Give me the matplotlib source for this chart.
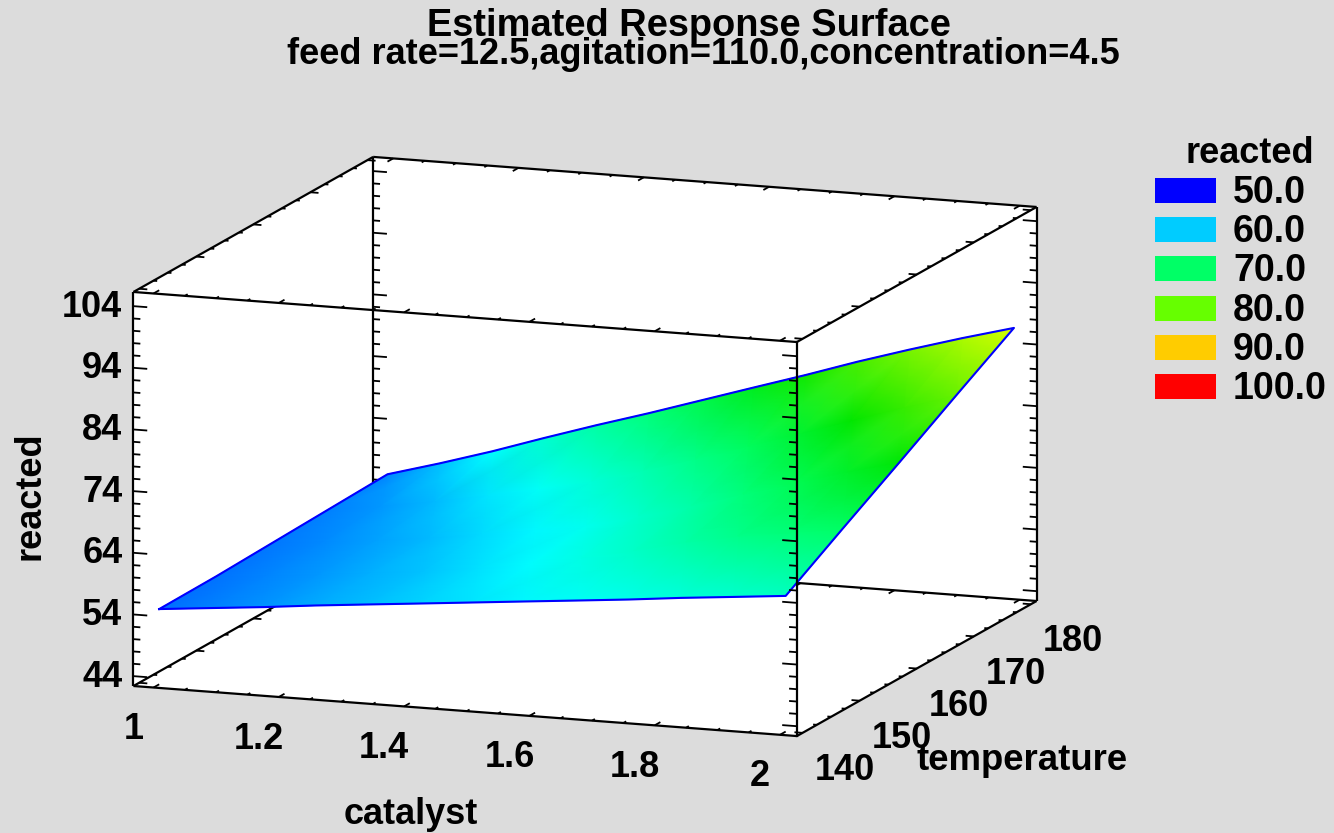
from __future__ import annotations

import matplotlib
matplotlib.use("Agg")
import matplotlib.pyplot as plt
import numpy as np
from matplotlib.colors import LinearSegmentedColormap, Normalize
from matplotlib.patches import Rectangle
from mpl_toolkits.mplot3d import proj3d

W, H = 1334, 833
BG = "#dcdcdc"
FONT = ["Liberation Sans", "DejaVu Sans"]

# values
CATALYST = [1.0, 1.083, 1.167, 1.25, 1.333, 1.417, 1.5, 1.583, 1.667, 1.75, 1.833, 1.917, 2.0]
TEMPERATURE = [140, 150, 160, 170, 180]
REACTED_140 = [54.6, 55.4, 56.2, 57.1, 57.9, 58.7, 59.5, 60.3, 61.1, 61.9, 62.8, 63.6, 64.4]
REACTED_150 = [54.7, 55.5, 56.4, 57.3, 58.2, 59.3, 60.5, 62.2, 64.0, 66.0, 67.6, 68.8, 70.1]
REACTED_160 = [55.0, 55.8, 56.7, 57.7, 59.0, 60.2, 61.6, 63.8, 66.0, 68.6, 71.0, 73.5, 75.7]
REACTED_170 = [55.3, 56.4, 57.8, 59.4, 61.0, 62.9, 65.3, 67.8, 70.5, 73.2, 76.0, 78.8, 81.4]
REACTED_180 = [55.6, 58.0, 60.6, 63.4, 66.1, 68.7, 71.4, 74.1, 76.8, 79.6, 82.2, 84.7, 87.0]

CAT_TICKS = [1, 1.2, 1.4, 1.6, 1.8, 2]
CAT_LABELS = ["1", "1.2", "1.4", "1.6", "1.8", "2"]
TEMP_TICKS = [140, 150, 160, 170, 180]
Z_TICKS = [44, 54, 64, 74, 84, 94, 104]

LEGEND_LEVELS = ["50.0", "60.0", "70.0", "80.0", "90.0", "100.0"]
LEGEND_COLORS = ["#0000ff", "#00ccff", "#00ff66", "#66ff00", "#ffcc00", "#ff0000"]

SURF_STOPS = [50, 60.5, 70, 76, 87, 100]
SURF_COLORS = ["#0000ff", "#00ffff", "#00ff64", "#00e600", "#d8ff00", "#ff0000"]

XLIM = (0.968, 2.027)
YLIM = (139, 181)
ZLIM = (42.4, 106.3)


def line3(ax, xs, ys, zs, lw=1.6):
    ax.plot(xs, ys, zs, color="black", lw=lw, solid_capstyle="butt")


def draw_z_edge(ax, x0, y0, sign):
    line3(ax, [x0, x0], [y0, y0], ZLIM)
    for z in np.arange(44, 105, 2):
        length = 0.022 if z in Z_TICKS else 0.011
        line3(ax, [x0, x0 + sign * length], [y0, y0], [z, z], lw=1.3)


def main() -> None:
    plt.rcParams["font.family"] = FONT
    plt.rcParams["font.weight"] = "bold"

    fig = plt.figure(figsize=(W / 100, H / 100), dpi=100, facecolor=BG)
    ax = fig.add_axes([71.5 / W, -127 / H, 1000 / W, 1000 / H], projection="3d")
    ax.set_proj_type("ortho")
    ax.view_init(elev=11.9, azim=-69.9)
    ax.set_box_aspect((707, 698, 403), zoom=1.04)
    ax.set_xlim(*XLIM)
    ax.set_ylim(*YLIM)
    ax.set_zlim(*ZLIM)
    ax.set_facecolor("none")
    ax.grid(False)
    ax.set_xticks([])
    ax.set_yticks([])
    ax.set_zticks([])
    for axis in (ax.xaxis, ax.yaxis, ax.zaxis):
        axis.set_pane_color("white")
        axis.pane.set_edgecolor("white")
        axis.line.set_color((0, 0, 0, 0))

    # box edges behind the surface
    for y0, z0 in [(YLIM[0], ZLIM[0]), (YLIM[1], ZLIM[0]), (YLIM[0], ZLIM[1]), (YLIM[1], ZLIM[1])]:
        line3(ax, XLIM, [y0, y0], [z0, z0])
        sign = 1 if y0 == YLIM[0] else -1
        for c in np.arange(1, 2.01, 0.05):
            major = any(abs(c - t) < 1e-6 for t in CAT_TICKS)
            line3(ax, [c, c], [y0, y0 + sign * (1.0 if major else 0.5)], [z0, z0], lw=1.3)
    for x0, z0 in [(XLIM[0], ZLIM[0]), (XLIM[1], ZLIM[0]), (XLIM[0], ZLIM[1]), (XLIM[1], ZLIM[1])]:
        line3(ax, [x0, x0], YLIM, [z0, z0])
        sign = 1 if x0 == XLIM[0] else -1
        for t in np.arange(140, 180.1, 2.5):
            length = 0.013 if t in TEMP_TICKS else 0.006
            line3(ax, [x0, x0 + sign * length], [t, t], [z0, z0], lw=1.3)
    draw_z_edge(ax, XLIM[0], YLIM[0], 1)
    draw_z_edge(ax, XLIM[0], YLIM[1], 1)
    draw_z_edge(ax, XLIM[1], YLIM[1], -1)

    # surface goes on a flat overlay so it can be gouraud shaded
    over = fig.add_axes([0, 0, 1, 1], facecolor="none")
    over.set_axis_off()
    M = ax.get_proj()

    def to_view(xs, ys, zs):
        px, py, _ = proj3d.proj_transform(np.ravel(xs), np.ravel(ys), np.ravel(zs), M)
        return px, py

    def label3(x, y, z, s, **kw):
        px, py = to_view([x], [y], [z])
        over.text(px[0], py[0], s, transform=ax.transData, va="center", fontsize=26, **kw)

    X, Y = np.meshgrid(CATALYST, TEMPERATURE)
    Z = np.array([REACTED_140, REACTED_150, REACTED_160, REACTED_170, REACTED_180])
    px, py = to_view(X, Y, Z)
    px, py = px.reshape(Z.shape), py.reshape(Z.shape)
    lo, hi = SURF_STOPS[0], SURF_STOPS[-1]
    cmap = LinearSegmentedColormap.from_list(
        "surf", [((s - lo) / (hi - lo), c) for s, c in zip(SURF_STOPS, SURF_COLORS)]
    )
    over.pcolormesh(px, py, Z, shading="gouraud", cmap=cmap, norm=Normalize(lo, hi),
                    transform=ax.transData, zorder=1)
    ox = np.r_[px[0, :], px[:, -1], px[-1, ::-1], px[::-1, 0]]
    oy = np.r_[py[0, :], py[:, -1], py[-1, ::-1], py[::-1, 0]]
    over.plot(ox, oy, color="#0000ff", lw=1.5, transform=ax.transData, zorder=2)

    # front right edge sits on top of the surface
    ex, ey = to_view([XLIM[1], XLIM[1]], [YLIM[0], YLIM[0]], ZLIM)
    over.plot(ex, ey, color="black", lw=1.6, transform=ax.transData, zorder=3)
    for z in np.arange(44, 105, 2):
        length = 0.022 if z in Z_TICKS else 0.011
        ex, ey = to_view([XLIM[1], XLIM[1] - length], [YLIM[0], YLIM[0]], [z, z])
        over.plot(ex, ey, color="black", lw=1.3, transform=ax.transData, zorder=3)

    over.set_xlim(0, W)
    over.set_ylim(H, 0)

    # tick labels
    for z in Z_TICKS:
        label3(XLIM[0] - 0.0175, YLIM[0], z - 0.3, str(z), ha="right")
    for c, lab in zip(CAT_TICKS, CAT_LABELS):
        label3(c, YLIM[0] - 3.5, ZLIM[0] - 5.0, lab, ha="center")
    for t in TEMP_TICKS:
        label3(XLIM[1] + 0.067, t, ZLIM[0] - 5.6, str(t), ha="center")

    over.text(30, 496, "reacted", rotation=90, ha="center", va="center", fontsize=26)
    over.text(411, 814, "catalyst", ha="center", va="center", fontsize=26)
    over.text(1022, 761, "temperature", ha="center", va="center", fontsize=26.3)

    fig.text(689 / W, 1 - 26 / H, "Estimated Response Surface", ha="center", va="center", fontsize=27.4)
    fig.text(703 / W, 1 - 55 / H, "feed rate=12.5,agitation=110.0,concentration=4.5",
             ha="center", va="center", fontsize=26)

    # legend
    over.text(1250, 153, "reacted", ha="center", va="center", fontsize=26)
    for i, (lab, col) in enumerate(zip(LEGEND_LEVELS, LEGEND_COLORS)):
        top = 178 + i * 39.2
        over.add_patch(Rectangle((1155, top), 61, 25, facecolor=col, edgecolor="none"))
        over.text(1233, top + 15, lab, ha="left", va="center", fontsize=27)

    fig.savefig("out.png", dpi=100, facecolor=BG)
    plt.close(fig)


if __name__ == "__main__":
    main()
